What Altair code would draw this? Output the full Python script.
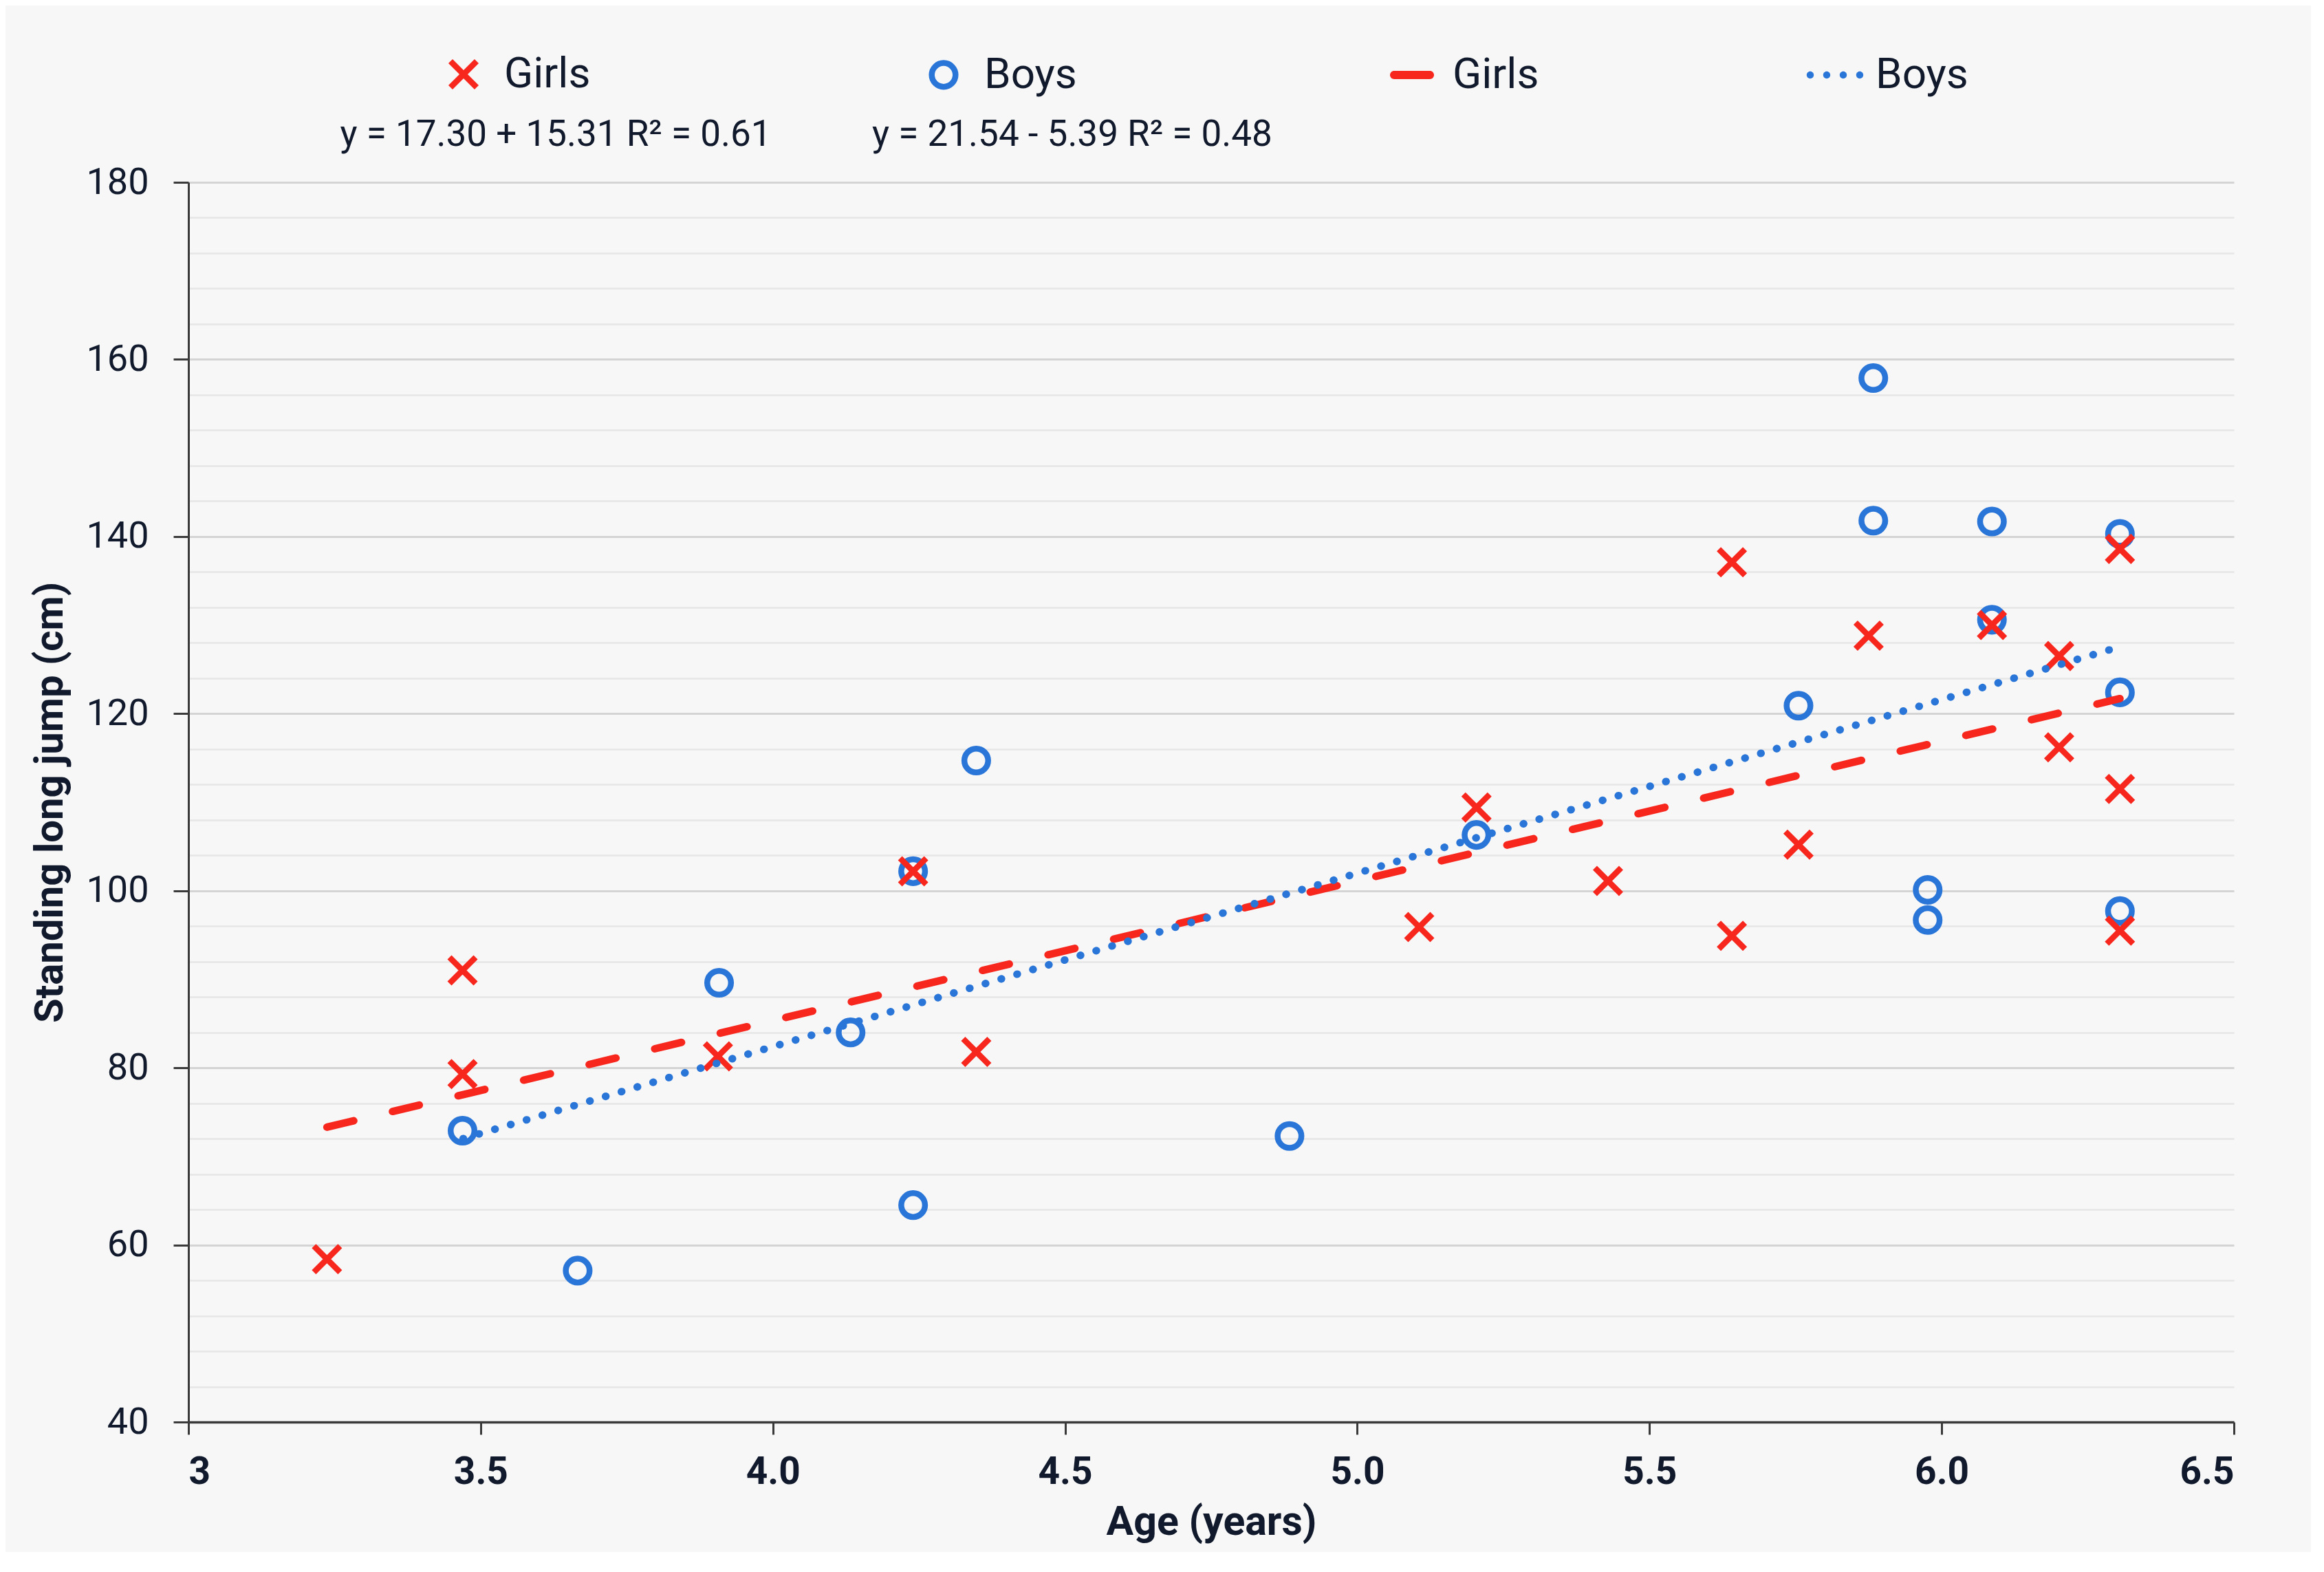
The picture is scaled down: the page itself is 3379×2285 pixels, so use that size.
import altair as alt
import pandas as pd

# ---------------- data ----------------
GIRLS_AGE = [3.237, 3.469, 3.469, 3.906, 4.240, 4.348, 5.106, 5.204, 5.429, 5.641,
             5.641, 5.755, 5.875, 6.086, 6.201, 6.201, 6.305, 6.305, 6.305]
GIRLS_JUMP = [58.4, 91.0, 79.3, 81.3, 102.2, 81.8, 95.9, 109.4, 101.1, 137.1,
              94.9, 105.2, 128.8, 130.0, 126.5, 116.2, 138.6, 111.5, 95.5]
BOYS_AGE = [3.469, 3.666, 3.908, 4.133, 4.240, 4.240, 4.348, 4.884, 5.204, 5.755,
            5.883, 5.883, 5.976, 5.976, 6.086, 6.086, 6.305, 6.305, 6.305]
BOYS_JUMP = [72.9, 57.1, 89.6, 84.0, 102.2, 64.5, 114.7, 72.3, 106.3, 120.9,
             157.9, 141.8, 100.1, 96.7, 141.7, 130.6, 140.3, 122.4, 97.7]

GIRLS_TREND_AGE = [3.237, 6.305]
GIRLS_TREND_JUMP = [73.3, 121.7]
BOYS_TREND_AGE = [3.470, 6.292]
BOYS_TREND_JUMP = [72.0, 127.3]

SERIES = ["Girls", "Boys"]
EQUATIONS = ["y = 17.30 + 15.31 R\u00b2 = 0.61", "y = 21.54 - 5.39 R\u00b2 = 0.48"]
X_TICKS = [3, 3.5, 4.0, 4.5, 5.0, 5.5, 6.0, 6.5]
Y_GRID = list(range(40, 181, 4))

# ---------------- styles ----------------
RED = "#F7271E"
BLUE = "#2A76D8"
TXT = "#111a2c"
FONT = "Roboto"
X_PATH = "M-1,-1L1,1M-1,1L1,-1"
# legend glyphs for the trend lines (unit square -1..1)
DASH_PATH = ("M-0.578,-0.133L0.578,-0.133A0.133,0.133 0 0 1 0.578,0.133"
             "L-0.578,0.133A0.133,0.133 0 0 1 -0.578,-0.133Z")


def _dot(cx, r=0.115):
    return (f"M{cx - r:.3f},0A{r},{r} 0 1 0 {cx + r:.3f},0"
            f"A{r},{r} 0 1 0 {cx - r:.3f},0Z")


DOTS_PATH = "".join(_dot(c) for c in (-0.8, -0.267, 0.267, 0.8))

points_df = pd.DataFrame({
    "age": BOYS_AGE + GIRLS_AGE,
    "jump": BOYS_JUMP + GIRLS_JUMP,
    "Series": ["Boys"] * len(BOYS_AGE) + ["Girls"] * len(GIRLS_AGE),
})
trend_df = pd.DataFrame({
    "age": GIRLS_TREND_AGE + BOYS_TREND_AGE,
    "jump": GIRLS_TREND_JUMP + BOYS_TREND_JUMP,
    "Trend": ["Girls"] * 2 + ["Boys"] * 2,
})

x_axis = alt.Axis(
    title="Age (years)", values=X_TICKS,
    labelExpr="datum.value === 3 ? '3' : format(datum.value, '.1f')",
    grid=False, tickSize=18, tickWidth=3, tickColor="#3a3a3a",
    domainColor="#3a3a3a", domainWidth=3.5,
    labelFont=FONT, labelFontSize=55, labelFontWeight="bold", labelColor=TXT,
    labelPadding=28,
    titleFont=FONT, titleFontSize=59, titleFontWeight="bold", titleColor=TXT,
    titlePadding=16,
)
major = "datum.value % 20 === 0"
y_axis = alt.Axis(
    title="Standing long jump (cm)", values=Y_GRID,
    labelExpr="datum.value % 20 === 0 ? datum.label : ''",
    grid=True,
    gridColor={"condition": {"test": major, "value": "#d4d4d4"}, "value": "#e6e6e6"},
    gridWidth={"condition": {"test": major, "value": 3}, "value": 2.5},
    tickOpacity={"condition": {"test": major, "value": 1}, "value": 0},
    tickSize=22, tickWidth=3, tickColor="#3a3a3a",
    domainColor="#3a3a3a", domainWidth=3,
    labelFont=FONT, labelFontSize=54, labelColor=TXT, labelPadding=36,
    titleFont=FONT, titleFontSize=58, titleFontWeight="bold", titleColor=TXT,
    titlePadding=22,
)

x_enc = alt.X("age:Q", scale=alt.Scale(domain=[3, 6.5], nice=False, zero=False), axis=x_axis)
y_enc = alt.Y("jump:Q", scale=alt.Scale(domain=[40, 180], nice=False, zero=False), axis=y_axis)

leg_pts = alt.Legend(
    title=None, orient="none", legendX=369, legendY=-188, direction="horizontal",
    labelFont=FONT, labelFontSize=62, labelColor=TXT, labelOffset=28,
    columnPadding=478, padding=0, symbolStrokeWidth=8.5,
)
leg_lines = alt.Legend(
    title=None, orient="none", legendX=1734, legendY=-201, direction="horizontal",
    labelFont=FONT, labelFontSize=62, labelColor=TXT, labelOffset=14,
    columnPadding=385, padding=0, symbolSize=8100, symbolStrokeWidth=0,
    symbolOpacity=1,
)

pts = alt.Chart(points_df).mark_point(filled=False, strokeWidth=8.5, opacity=1).encode(
    x=x_enc,
    y=y_enc,
    color=alt.Color("Series:N", scale=alt.Scale(domain=SERIES, range=[RED, BLUE]), legend=leg_pts),
    shape=alt.Shape("Series:N", scale=alt.Scale(domain=SERIES, range=[X_PATH, "circle"]), legend=leg_pts),
    size=alt.Size("Series:N", scale=alt.Scale(domain=SERIES, range=[1444, 1195]), legend=leg_pts),
)

lines = alt.Chart(trend_df).mark_line(strokeWidth=11, strokeCap="round").encode(
    x="age:Q",
    y="jump:Q",
    color=alt.Color("Trend:N", scale=alt.Scale(domain=SERIES, range=[RED, BLUE]), legend=None),
    strokeDash=alt.StrokeDash("Trend:N", scale=alt.Scale(domain=SERIES, range=[[40, 58], [0.5, 23.5]]),
                              legend=None),
)

# legend for the trend lines: scale-driven legend, no marks drawn (filtered out)
trend_legend = alt.Chart(trend_df).transform_filter("datum.age < 0").mark_point(
    filled=True, strokeWidth=0
).encode(
    color=alt.Color("Trend:N", scale=alt.Scale(domain=SERIES, range=[RED, BLUE]), legend=leg_lines),
    shape=alt.Shape("Trend:N", scale=alt.Scale(domain=SERIES, range=[DASH_PATH, DOTS_PATH]),
                    legend=leg_lines),
)

eq1 = alt.Chart(pd.DataFrame({"eq": [EQUATIONS[0]]})).mark_text(
    font=FONT, fontSize=53, color=TXT, align="center", baseline="middle"
).encode(text="eq:N", x=alt.value(534), y=alt.value(-69))
eq2 = alt.Chart(pd.DataFrame({"eq": [EQUATIONS[1]]})).mark_text(
    font=FONT, fontSize=53, color=TXT, align="center", baseline="middle"
).encode(text="eq:N", x=alt.value(1285), y=alt.value(-69))

chart = alt.layer(pts, lines, trend_legend, eq1, eq2).resolve_scale(
    color="independent", shape="independent", size="independent", strokeDash="independent"
).properties(
    width=2974, height=1802,
    padding={"left": 266, "top": 257, "right": 112, "bottom": 189},
    autosize=alt.AutoSizeParams(type="none"),
    background="#f7f7f7",
).configure_view(stroke=None)

chart.save("out.html", embed_options={"renderer": "svg", "actions": False})
